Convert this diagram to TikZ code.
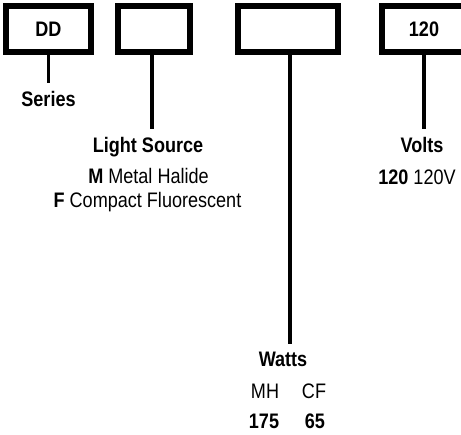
\documentclass[tikz,border=0pt]{standalone}
\usepackage{fontspec}
\setmainfont{Liberation Sans}[FakeStretch=0.86]

\tikzset{
    codebox/.style={draw, line width=6pt, minimum height=46pt, inner sep=0pt, font=\fontsize{21}{24}\selectfont\bfseries},
    head/.style={anchor=base, inner sep=0pt, font=\fontsize{21}{24}\selectfont\bfseries},
    item/.style={anchor=base, inner sep=0pt, font=\fontsize{21}{24}\selectfont},
    lead/.style={line width=3.5pt, shorten >=8.5pt}
}

\begin{document}
\begin{tikzpicture}[x=1pt, y=-1pt]
        \useasboundingbox (0,0) rectangle (461,435);

        \node[codebox, minimum width=85pt] (series) at (48.5,29) {DD};
        \node[codebox, minimum width=72pt] (source) at (154,29) {};
        \node[codebox, minimum width=100pt] (watts) at (288,29) {};
        \node[codebox, minimum width=84pt] (volts) at (424,29) {120};

        \node[head] (serieslbl) at (48.5,107) {Series};

        \node[head] (sourcelbl) at (148,153) {Light Source};
        \node[item] (srcm) at (148.5,184) {\textbf{M} Metal Halide};
        \node[item] (srcf) at (147.5,208) {\textbf{F} Compact Fluorescent};

        \node[head] (wattslbl) at (283,367) {Watts};
        \node[item] (mh) at (265,399) {MH};
        \node[item] (cf) at (314,399) {CF};
        \node[head] (w175) at (264,429) {175};
        \node[head] (w65) at (315,429) {65};

        \node[head] (voltslbl) at (422,153) {Volts};
        \node[item] (v120) at (417,185) {\textbf{120} 120V};

        \draw[lead] (series.south) -- (series.south |- serieslbl.north);
        \draw[lead] ([xshift=-2pt]source.south) -- ([xshift=-2pt]source.south |- sourcelbl.north);
        \draw[lead] ([xshift=2pt]watts.south) -- ([xshift=2pt]watts.south |- wattslbl.north);
        \draw[lead] (volts.south) -- (volts.south |- voltslbl.north);
\end{tikzpicture}
\end{document}
